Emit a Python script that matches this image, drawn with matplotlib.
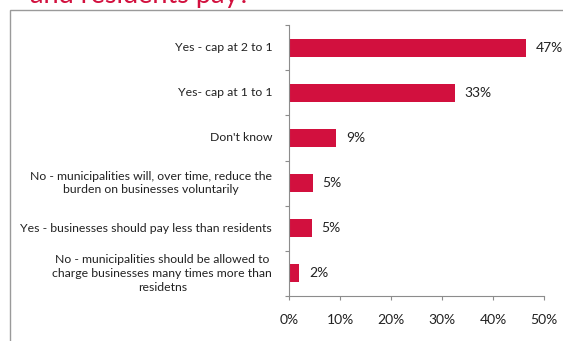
import matplotlib
matplotlib.use("Agg")
import matplotlib.pyplot as plt
from matplotlib.patches import Rectangle

# ── Data ──────────────────────────────────────────────────────────────────────
categories = [
    "Yes - cap at 2 to 1",
    "Yes- cap at 1 to 1",
    "Don't know",
    "No - municipalities will, over time, reduce the\nburden on businesses voluntarily",
    "Yes - businesses should pay less than residents",
    "No - municipalities should be allowed to\ncharge businesses many times more than\nresidetns",
]
values = [46.5, 32.5, 9.3, 4.7, 4.5, 2.0]
value_labels = ["47%", "33%", "9%", "5%", "5%", "2%"]
xticks = [0, 10, 20, 30, 40, 50]
xtick_labels = ["0%", "10%", "20%", "30%", "40%", "50%"]

RED = "#D2103E"
GREY = "#8C8C8C"

plt.rcParams["font.family"] = ["Lato", "DejaVu Sans"]

W, H = 563, 341
fig = plt.figure(figsize=(W / 100, H / 100), dpi=100)

# frame around the chart area (cut off at right/bottom)
fig.patches.append(Rectangle((10 / W, -0.1), 1.2, 1.1 - 10 / H, transform=fig.transFigure,
                             fill=False, edgecolor="#9A9A9A", lw=1.0))

# partially visible title
fig.text(30 / W, 1 - 3.5 / H, "and residents pay?", color=RED, fontsize=19.5,
         ha="left", va="baseline")

ax = fig.add_axes([289 / W, 1 - 296 / H, (544 - 289) / W, (296 - 25) / H])

ypos = list(range(len(categories)))
ax.barh(ypos, values, height=0.4, color=RED)
ax.set_ylim(len(categories) - 0.5, -0.5)
ax.set_xlim(0, 50)

for y, v, lab in zip(ypos, values, value_labels):
    ax.text(v + 1.9, y, lab, va="center", ha="left", fontsize=10, color="#222222")

ax.set_xticks(xticks)
ax.set_xticklabels(xtick_labels, fontsize=10, color="#222222")
ax.set_yticks([i - 0.5 for i in range(len(categories) + 1)])
ax.set_yticklabels([])
ax.tick_params(axis="both", length=3, color=GREY, width=0.8)
ax.tick_params(axis="x", pad=10)

for y, cat in zip(ypos, categories):
    ax.text(-3.3, y, cat, ha="right", va="center", multialignment="center",
            fontsize=8.8, color="#222222", linespacing=1.3)

for s in ["top", "right"]:
    ax.spines[s].set_visible(False)
for s in ["left", "bottom"]:
    ax.spines[s].set_color(GREY)
    ax.spines[s].set_linewidth(0.8)

fig.savefig("out.png", dpi=100)
